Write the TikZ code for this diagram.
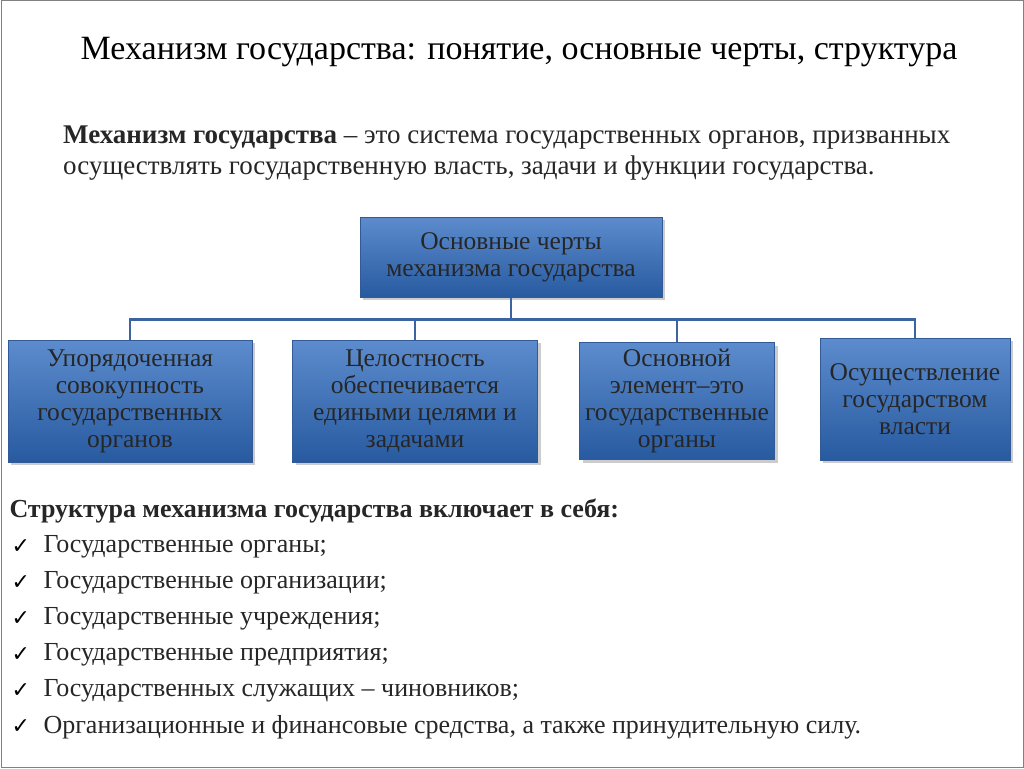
\documentclass[tikz,border=0pt]{standalone}
\usepackage{fontspec}
\setmainfont{Liberation Serif}
\newfontfamily\checkfont{DejaVu Sans}
\usetikzlibrary{shadows}
\definecolor{boxtop}{RGB}{92,140,205}
\definecolor{boxbot}{RGB}{40,90,160}
\definecolor{boxline}{RGB}{50,90,150}
\definecolor{busline}{RGB}{60,100,160}
\tikzset{
  featbox/.style={draw=boxline,line width=1pt,top color=boxtop,bottom color=boxbot,
    drop shadow={shadow xshift=3pt,shadow yshift=-3pt,opacity=0.4},
    align=center,font=\fontsize{25.5}{27}\selectfont,text=black!85,inner sep=2pt},
  bus/.style={draw=busline,line width=2.5pt},
  item/.style={anchor=west,font=\fontsize{26}{30}\selectfont,text=black!85},
  tick/.style={anchor=west,font=\checkfont\fontsize{22}{26}\selectfont}
}
\begin{document}
\begin{tikzpicture}[x=1pt,y=-1pt]
\useasboundingbox (0,0) rectangle (1024,768);
\draw[gray,line width=1pt] (1,1) rectangle (1023,767);

\node[font=\fontsize{34}{38}\selectfont] (title) at (519,52) {Механизм государства: понятие, основные черты, структура};
\node[anchor=north west,text width=899pt,align=justify,inner sep=0pt,
  font=\fontsize{27}{31}\selectfont,text=black!85] (def) at (63,126)
  {\textbf{Механизм государства} – это система государственных органов, призванных\\ осуществлять государственную власть, задачи и функции государства.};

\node[featbox,minimum width=302pt,minimum height=80pt] (top) at (511,257) {Основные черты\\механизма государства};
\node[featbox,minimum width=244pt,minimum height=122pt] (b1) at (130,401) {Упорядоченная\\совокупность\\государственных\\органов};
\node[featbox,minimum width=245pt,minimum height=122pt] (b2) at (415,401) {Целостность\\обеспечивается\\едиными целями и\\задачами};
\node[featbox,minimum width=195pt,minimum height=117pt] (b3) at (677,401) {Основной\\элемент–это\\государственные\\органы};
\node[featbox,minimum width=190pt,minimum height=122pt] (b4) at (915,399) {Осуществление\\государством\\власти};

\draw[bus] (top.south) -- ++(0,22) -| (b1.north);
\draw[bus] (top.south) -- ++(0,22) -| (b2.north);
\draw[bus] (top.south) -- ++(0,22) -| (b3.north);
\draw[bus] (top.south) -- ++(0,22) -| (b4.north);

\node[item,font=\bfseries\fontsize{26}{30}\selectfont] (head) at (6,511) {Структура механизма государства включает в себя:};
\foreach \t [count=\i] in {Государственные органы;,Государственные организации;,Государственные учреждения;,Государственные предприятия;,Государственных служащих – чиновников;,{Организационные и финансовые средства, а также принудительную силу.}}{
  \node[tick] (c\i) at (8,511+36*\i) {✓};
  \node[item] (t\i) at (40,511+36*\i) {\t};
}
\end{tikzpicture}
\end{document}
